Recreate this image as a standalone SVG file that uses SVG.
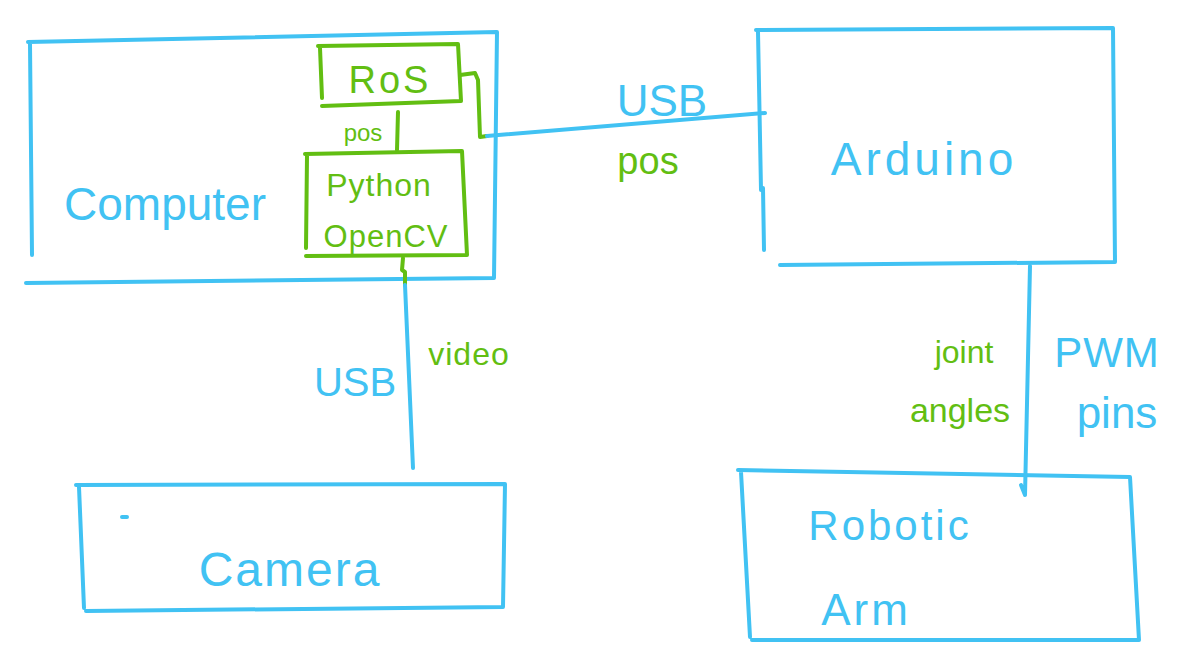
<svg xmlns="http://www.w3.org/2000/svg" width="1190" height="671" viewBox="0 0 1190 671">
<style>
.b{fill:none;stroke:#41c2f3;stroke-width:4;stroke-linecap:round;stroke-linejoin:round}
.g{fill:none;stroke:#62be12;stroke-width:4;stroke-linecap:round;stroke-linejoin:round}
.tb{fill:#41c2f3;font-family:"Liberation Sans",Arial,sans-serif}
.tg{fill:#62be12;font-family:"Liberation Sans",Arial,sans-serif}
</style>
<rect width="1190" height="671" fill="#fff"/>
<g id="computer">
<path class="b" d="M28 42 L497 32 L494 278 L26 283 M30 44 L32 255"/>
<text class="tb" x="165" y="220" font-size="46" text-anchor="middle">Computer</text>
</g>
<g id="ros">
<path class="g" d="M318 46 L458 44 L461 101 L322 106 M320 48 L322 98"/>
<text class="tg" x="390" y="93" font-size="38" letter-spacing="3" text-anchor="middle">RoS</text>
</g>
<g id="python">
<path class="g" d="M305 154 L462 151 L467 255 L306 256 M307 156 L306 248"/>
<text class="tg" x="379" y="196" font-size="32" letter-spacing="1" text-anchor="middle">Python</text>
<text class="tg" x="386" y="247" font-size="31" letter-spacing="1" text-anchor="middle">OpenCV</text>
</g>
<g id="arduino">
<path class="b" d="M756 30 L1113 28 L1115 262 L780 265 M758 32 L761 190 M763 188 L764 250"/>
<text class="tb" x="924" y="175" font-size="46" letter-spacing="4" text-anchor="middle">Arduino</text>
</g>
<g id="camera">
<path class="b" d="M76 485 L505 484 L503 607 L86 611 M79 487 L84 608 M122 517 L127 517"/>
<text class="tb" x="290" y="586" font-size="48" letter-spacing="2" text-anchor="middle">Camera</text>
</g>
<g id="arm">
<path class="b" d="M738 470 L1130 477 L1139 640 L752 640 M741 472 L750 637"/>
<text class="tb" x="890" y="540" font-size="42" letter-spacing="3" text-anchor="middle">Robotic</text>
<text class="tb" x="866" y="625" font-size="44" letter-spacing="3" text-anchor="middle">Arm</text>
</g>
<g id="connectors">
<path class="g" d="M398 112 L397 150"/>
<path class="g" d="M460 75 L475 73 L478 80 L480 137 L487 136"/>
<path class="b" d="M487 136 L765 113"/>
<path class="g" d="M403 258 L402 270 L405 272 L405 285"/>
<path class="b" d="M405 285 L413 468"/>
<path class="b" d="M1030 266 L1025 495 M1021 485 L1025 495"/>
<text class="tg" x="363" y="141" font-size="24" text-anchor="middle">pos</text>
<text class="tb" x="662" y="116" font-size="44" text-anchor="middle">USB</text>
<text class="tg" x="648" y="174" font-size="38" text-anchor="middle">pos</text>
<text class="tb" x="355" y="396" font-size="40" text-anchor="middle">USB</text>
<text class="tg" x="469" y="365" font-size="32" letter-spacing="1" text-anchor="middle">video</text>
<text class="tg" x="964" y="363" font-size="32" text-anchor="middle">joint</text>
<text class="tg" x="960" y="422" font-size="34" text-anchor="middle">angles</text>
<text class="tb" x="1107" y="367" font-size="42" letter-spacing="1" text-anchor="middle">PWM</text>
<text class="tb" x="1117" y="428" font-size="44" text-anchor="middle">pins</text>
</g>
</svg>
